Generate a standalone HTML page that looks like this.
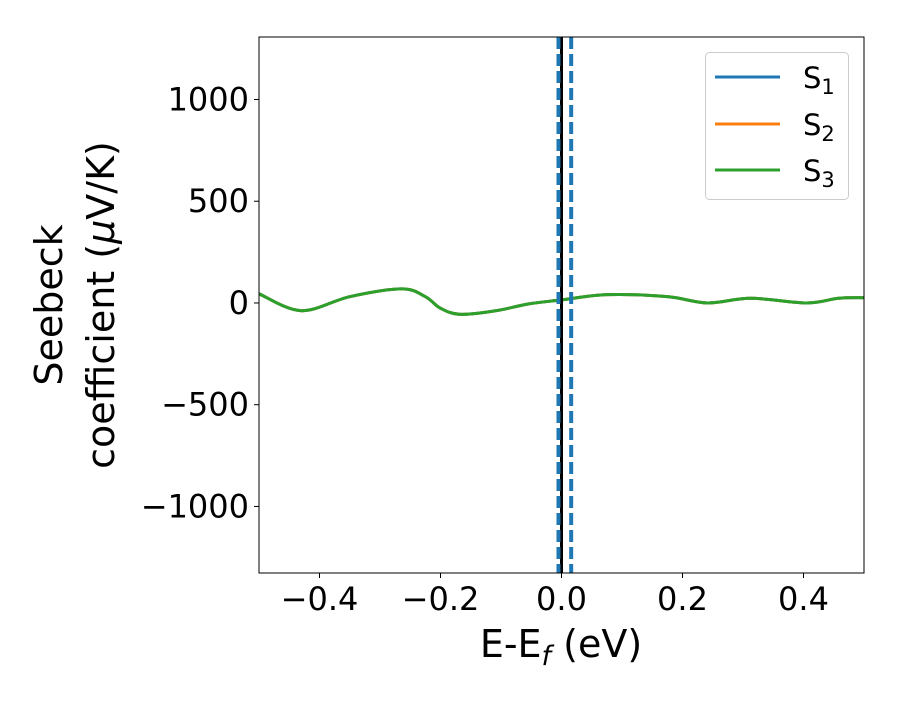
<!DOCTYPE html>
<html><head><meta charset="utf-8"><style>
body{margin:0;background:#fff}
svg text{font-family:"DejaVu Sans","Liberation Sans",sans-serif;fill:#000}
</style></head><body>
<svg id="chart" width="900" height="700" xmlns="http://www.w3.org/2000/svg">
<g id="plot"></g>
<text x="561" y="657" font-size="38" text-anchor="middle">E-E<tspan font-style="italic" font-size="27" dy="8">f</tspan><tspan dy="-8"> (eV)</tspan></text>
<text transform="translate(62,305) rotate(-90)" font-size="38" text-anchor="middle"><tspan x="0" dy="0">Seebeck</tspan><tspan x="0" dy="52">coefficient  (<tspan font-style="italic">μ</tspan>V/K)</tspan></text>
<g>
<rect x="705.5" y="52.5" width="143" height="147" rx="4" fill="#fff" fill-opacity="0.8" stroke="#ccc"/>
<line x1="715" x2="780" y1="77" y2="77" stroke="#1f77b4" stroke-width="3"/>
<line x1="715" x2="780" y1="124" y2="124" stroke="#ff7f0e" stroke-width="3"/>
<line x1="715" x2="780" y1="170" y2="170" stroke="#2ca02c" stroke-width="3"/>
<text x="803" y="88" font-size="29">S<tspan font-size="21" dy="6">1</tspan></text>
<text x="803" y="135" font-size="29">S<tspan font-size="21" dy="6">2</tspan></text>
<text x="803" y="181" font-size="29">S<tspan font-size="21" dy="6">3</tspan></text>
</g>
</svg>
<script>
const energies=[-0.5,-0.43,-0.35,-0.264,-0.225,-0.2,-0.167,-0.108,-0.055,0,0.076,0.175,0.241,0.313,0.405,0.458,0.5];
const s1=[45,-38,31,69,31,-26,-56,-38,-5,15,41,31,0,23,0,23,26];
const s2=s1.slice();
const s3=s1.slice();
const xTicks=[-0.4,-0.2,0.0,0.2,0.4];
const xTickLabels=["\u22120.4","\u22120.2","0.0","0.2","0.4"];
const yTicks=[-1000,-500,0,500,1000];
const yTickLabels=["\u22121000","\u2212500","0","500","1000"];
const dashedLines=[-0.005,0.016];
const L=259,R=864,T=37,B=573,xmin=-0.5,xmax=0.5,ymin=-1327,ymax=1307;
const X=v=>L+(v-xmin)/(xmax-xmin)*(R-L);
const Y=v=>B-(v-ymin)/(ymax-ymin)*(B-T);
const ns="http://www.w3.org/2000/svg";
const g=document.getElementById('plot');
function mk(t,a,p){const e=document.createElementNS(ns,t);for(const k in a)e.setAttribute(k,a[k]);(p||g).appendChild(e);return e;}
const clip=mk('clipPath',{id:'cp'});mk('rect',{x:L,y:T,width:R-L,height:B-T},clip);
const data=mk('g',{'clip-path':'url(#cp)'});


function line(arr,color,name){
 const d=energies.map((e,i)=>[X(e),Y(arr[i])]);
 let p='M'+d[0][0]+','+d[0][1];
 for(let i=0;i<d.length-1;i++){const p0=d[i-1]||d[i],p1=d[i],p2=d[i+1],p3=d[i+2]||d[i+1];
  p+=' C'+(p1[0]+(p2[0]-p0[0])/6)+','+(p1[1]+(p2[1]-p0[1])/6)+' '+(p2[0]-(p3[0]-p1[0])/6)+','+(p2[1]-(p3[1]-p1[1])/6)+' '+p2[0]+','+p2[1];}
 const e=mk('path',{d:p,fill:'none',stroke:color,'stroke-width':3},data);
 
 
}
line(s1,'#1f77b4','series-s1');line(s2,'#ff7f0e','series-s2');line(s3,'#2ca02c','series-s3');
const z=mk('line',{x1:X(0),x2:X(0),y1:T,y2:B,stroke:'#000','stroke-width':3},data);


dashedLines.forEach(v=>{const e=mk('line',{x1:X(v),x2:X(v),y1:T,y2:B,stroke:'#1f77b4','stroke-width':4,'stroke-dasharray':'12 5'},data);
 
 });
const fr=mk('rect',{x:L,y:T,width:R-L,height:B-T,fill:'none',stroke:'#000','stroke-width':1});


xTicks.forEach((v,i)=>{mk('line',{x1:X(v),x2:X(v),y1:B,y2:B+5,stroke:'#000'});
 const t=mk('text',{x:X(v),y:B+37,'font-size':32,'text-anchor':'middle'});t.textContent=xTickLabels[i];
 
 });
yTicks.forEach((v,i)=>{mk('line',{x1:L-5,x2:L,y1:Y(v),y2:Y(v),stroke:'#000'});
 const t=mk('text',{x:L-10,y:Y(v)+11,'font-size':32,'text-anchor':'end'});t.textContent=yTickLabels[i];
 
 });
</script>
</body></html>
